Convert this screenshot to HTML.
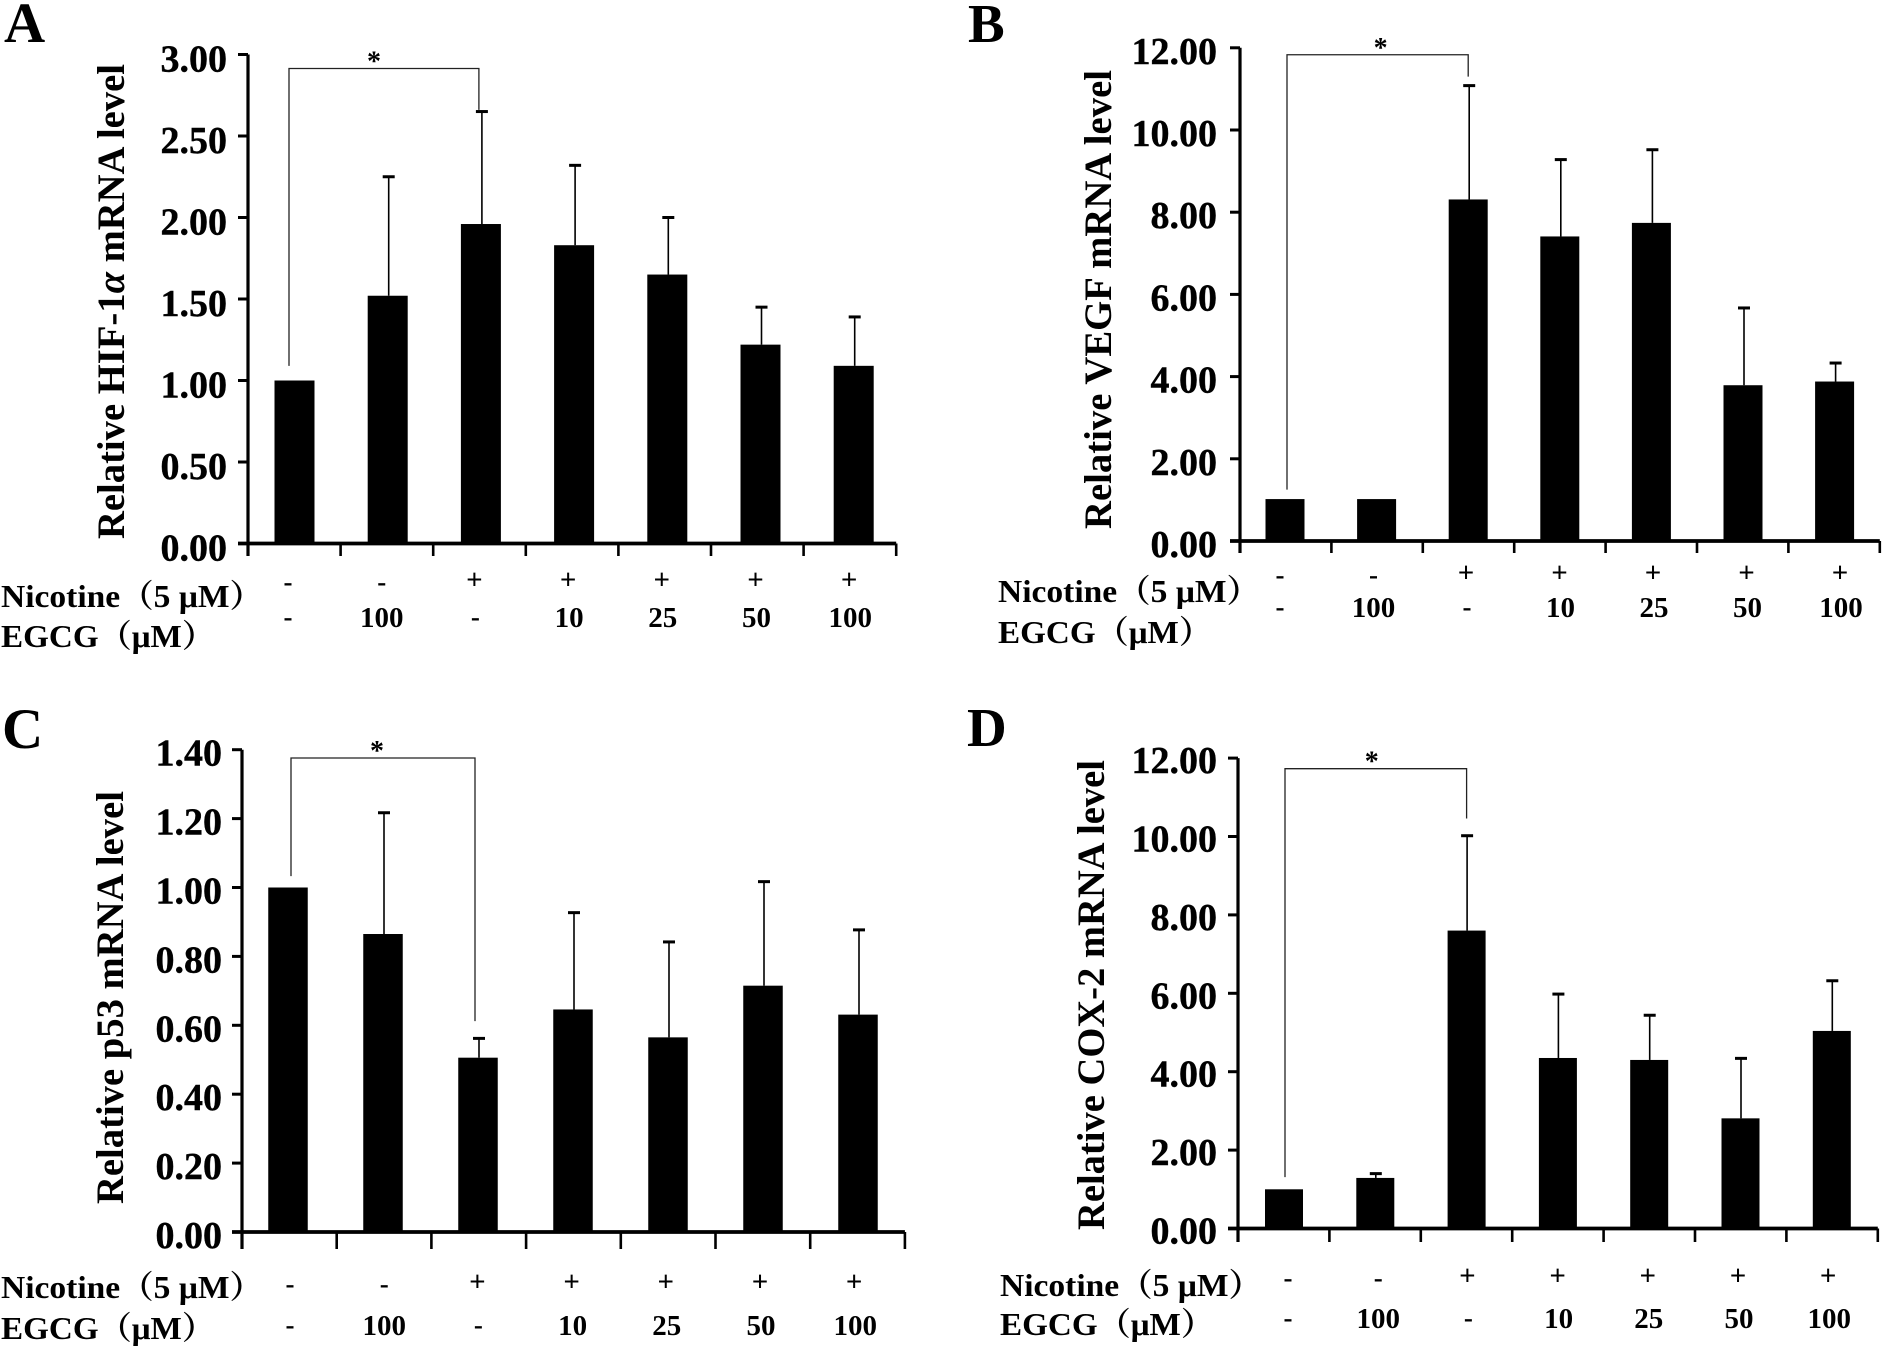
<!DOCTYPE html>
<html lang="en">
<head>
<meta charset="utf-8">
<title>Relative mRNA levels after nicotine and EGCG treatment</title>
<style>
html,body{margin:0;padding:0;background:#fff;}
svg{display:block;}
text{font-family:"Liberation Serif","Noto Serif CJK SC",serif;font-weight:bold;fill:#000;}
</style>
</head>
<body>
<svg id="figure" xmlns="http://www.w3.org/2000/svg" width="1887" height="1346" viewBox="0 0 1887 1346">
  <rect width="1887" height="1346" fill="#fff"/>

  <g id="panel-a">
    <text x="4" y="42" font-size="57">A</text>
    <text transform="translate(124 539) rotate(-90)" font-size="39" textLength="475" lengthAdjust="spacingAndGlyphs">Relative HIF-1<tspan font-style="italic">α</tspan> mRNA level</text>
    <text x="1" y="607" font-size="32" textLength="262" lengthAdjust="spacingAndGlyphs">Nicotine（5 μM）</text>
    <text x="1" y="647" font-size="32" textLength="214" lengthAdjust="spacingAndGlyphs">EGCG（μM）</text>
  </g>

  <g id="panel-b">
    <text x="968" y="42" font-size="55">B</text>
    <text transform="translate(1111 529) rotate(-90)" font-size="39" textLength="459" lengthAdjust="spacingAndGlyphs">Relative VEGF mRNA level</text>
    <text x="998" y="602" font-size="32" textLength="262" lengthAdjust="spacingAndGlyphs">Nicotine（5 μM）</text>
    <text x="998" y="643" font-size="32" textLength="214" lengthAdjust="spacingAndGlyphs">EGCG（μM）</text>
  </g>

  <g id="panel-c">
    <text x="2" y="748" font-size="57">C</text>
    <text transform="translate(123 1204) rotate(-90)" font-size="39" textLength="413" lengthAdjust="spacingAndGlyphs">Relative p53 mRNA level</text>
    <text x="1" y="1298" font-size="32" textLength="262" lengthAdjust="spacingAndGlyphs">Nicotine（5 μM）</text>
    <text x="1" y="1339" font-size="32" textLength="214" lengthAdjust="spacingAndGlyphs">EGCG（μM）</text>
  </g>

  <g id="panel-d">
    <text x="967" y="746" font-size="55">D</text>
    <text transform="translate(1104 1230) rotate(-90)" font-size="39" textLength="470" lengthAdjust="spacingAndGlyphs">Relative COX-2 mRNA level</text>
    <text x="1000" y="1296" font-size="32" textLength="262" lengthAdjust="spacingAndGlyphs">Nicotine（5 μM）</text>
    <text x="1000" y="1335" font-size="32" textLength="214" lengthAdjust="spacingAndGlyphs">EGCG（μM）</text>
  </g>
</svg>

<script>
// Treatment labels shared by all panels
const nicotineLabels = ['-', '-', '+', '+', '+', '+', '+'];
const egcgLabels = ['-', '100', '-', '10', '25', '50', '100'];

// Panel A: HIF-1 alpha
const hifValues = [1.00, 1.52, 1.96, 1.83, 1.65, 1.22, 1.09];
const hifErrors = [0, 0.73, 0.69, 0.49, 0.35, 0.23, 0.30];
const hifTicks = [0, 0.5, 1, 1.5, 2, 2.5, 3];
const hifBracket = [2.914, 1.09, 2.66];

// Panel B: VEGF
const vegfValues = [1.02, 1.02, 8.31, 7.41, 7.74, 3.79, 3.88];
const vegfErrors = [0, 0, 2.77, 1.87, 1.78, 1.88, 0.45];
const vegfTicks = [0, 2, 4, 6, 8, 10, 12];
const vegfBracket = [11.83, 1.25, 11.3];

// Panel C: p53
const p53Values = [1.00, 0.865, 0.506, 0.646, 0.565, 0.715, 0.631];
const p53Errors = [0, 0.352, 0.056, 0.281, 0.277, 0.302, 0.246];
const p53Ticks = [0, 0.2, 0.4, 0.6, 0.8, 1, 1.2, 1.4];
const p53Bracket = [1.376, 1.033, 0.612];

// Panel D: COX-2
const coxValues = [1.00, 1.29, 7.60, 4.35, 4.30, 2.81, 5.04];
const coxErrors = [0, 0.11, 2.42, 1.63, 1.14, 1.53, 1.28];
const coxTicks = [0, 2, 4, 6, 8, 10, 12];
const coxBracket = [11.73, 1.31, 10.46];

const SVGNS = 'http://www.w3.org/2000/svg';

function shape(parent, tag, attrs) {
  const el = document.createElementNS(SVGNS, tag);
  for (const k in attrs) el.setAttribute(k, attrs[k]);
  parent.appendChild(el);
  return el;
}

function line(parent, x1, y1, x2, y2, width, color) {
  return shape(parent, 'line', { x1, y1, x2, y2, stroke: color || '#000', 'stroke-width': width });
}

function label(parent, str, x, y, size, anchor) {
  const el = shape(parent, 'text', { x, y, 'font-size': size, 'text-anchor': anchor || 'middle' });
  el.textContent = str;
  return el;
}

function drawPanel(cfg) {
  const root = document.getElementById(cfg.id);
  const yOf = function (v) { return cfg.y0 - v * cfg.pxPerUnit; };
  const xOf = function (i) { return cfg.barStart + i * cfg.barStep; };
  const xLabelOf = function (i) { return cfg.labelStart + i * cfg.labelStep; };
  const n = cfg.values.length;
  const topTick = cfg.ticks[cfg.ticks.length - 1];

  // bars
  cfg.values.forEach(function (v, i) {
    const bar = shape(root, 'rect', {
      x: xOf(i) - cfg.barWidth / 2,
      y: yOf(v),
      width: cfg.barWidth,
      height: cfg.y0 - yOf(v)
    });
    
    
  });

  // error bars
  cfg.errors.forEach(function (e, i) {
    if (e <= 0) return;
    const cx = xOf(i) + cfg.errDx;
    const topY = yOf(cfg.values[i] + e);
    const stem = line(root, cx, yOf(cfg.values[i]), cx, topY, 1.6);
    
    
    const cap = line(root, cx - 6, topY, cx + 6, topY, 3);
    
    
  });

  // y axis
  const yAxis = line(root, cfg.axisX, yOf(topTick), cfg.axisX, cfg.tickBottom, 3.2);
  
  

  // x axis
  const xAxis = line(root, cfg.axisX - 10, cfg.y0, cfg.axisX + n * cfg.tickStep, cfg.y0, 3.8);
  
  

  // y ticks and labels
  cfg.ticks.forEach(function (t) {
    const tick = line(root, cfg.axisX - 10, yOf(t), cfg.axisX, yOf(t), 3);
    
    
    const txt = label(root, t.toFixed(2), cfg.tickLabelRight, yOf(t) + 13 + cfg.tickLabelDy, 38, 'end');
    txt.setAttribute('stroke', '#000');
    txt.setAttribute('stroke-width', '0.4');
    
    
  });

  // x ticks
  for (let i = 0; i <= n; i++) {
    const x = cfg.axisX + i * cfg.tickStep;
    const tick = line(root, x, cfg.y0, x, cfg.tickBottom, 2.6);
    
    
  }

  // treatment rows
  nicotineLabels.forEach(function (s, i) {
    const isPlus = s === '+';
    const txt = label(root, s, xLabelOf(i) + (isPlus ? -1 : 0), cfg.row1 + (isPlus ? 7 : 9), isPlus ? 29 : 27);
    
    
  });
  egcgLabels.forEach(function (s, i) {
    const isDash = s === '-';
    const txt = label(root, s, xLabelOf(i), cfg.row2 + (isDash ? 8 : 9), isDash ? 27 : 29);
    
    
  });

  // significance bracket
  const bl = xOf(0) + cfg.bracketLeftDx;
  const br = xOf(2) + cfg.bracketRightDx;
  const bTop = yOf(cfg.bracket[0]);
  const path = shape(root, 'path', {
    d: 'M' + bl + ' ' + yOf(cfg.bracket[1]) + 'V' + bTop + 'H' + br + 'V' + yOf(cfg.bracket[2]),
    fill: 'none',
    stroke: '#222',
    'stroke-width': 1.3
  });
  
  
  const star = label(root, '*', (bl + br) / 2 + cfg.starDx, bTop + 2, 28);
  
  
}

drawPanel({
  id: 'panel-a', key: 'panel-a',
  values: hifValues, errors: hifErrors, ticks: hifTicks, bracket: hifBracket,
  y0: 543.5, pxPerUnit: 163, axisX: 248, tickStep: 92.6, tickBottom: 556,
  barStart: 294.5, barStep: 93.2, barWidth: 40, errDx: 1,
  tickLabelRight: 227, tickLabelDy: 4,
  labelStart: 288, labelStep: 93.7, row1: 582, row2: 618,
  bracketLeftDx: -5.5, bracketRightDx: -2, starDx: -10
});
drawPanel({
  id: 'panel-b', key: 'panel-b',
  values: vegfValues, errors: vegfErrors, ticks: vegfTicks, bracket: vegfBracket,
  y0: 541, pxPerUnit: 41.1, axisX: 1240, tickStep: 91.4, tickBottom: 553,
  barStart: 1285, barStep: 91.6, barWidth: 39, errDx: 1,
  tickLabelRight: 1217, tickLabelDy: 3,
  labelStart: 1280, labelStep: 93.5, row1: 575, row2: 608,
  bracketLeftDx: 2, bracketRightDx: 0, starDx: 3
});
drawPanel({
  id: 'panel-c', key: 'panel-c',
  values: p53Values, errors: p53Errors, ticks: p53Ticks, bracket: p53Bracket,
  y0: 1232, pxPerUnit: 344.5, axisX: 242, tickStep: 94.7, tickBottom: 1249,
  barStart: 288, barStep: 95, barWidth: 39.5, errDx: 1,
  tickLabelRight: 222, tickLabelDy: 3,
  labelStart: 290, labelStep: 94.2, row1: 1284, row2: 1326,
  bracketLeftDx: 3, bracketRightDx: -3, starDx: -6
});
drawPanel({
  id: 'panel-d', key: 'panel-d',
  values: coxValues, errors: coxErrors, ticks: coxTicks, bracket: coxBracket,
  y0: 1228.5, pxPerUnit: 39.2, axisX: 1238, tickStep: 91.4, tickBottom: 1242,
  barStart: 1284, barStep: 91.3, barWidth: 38, errDx: 0.5,
  tickLabelRight: 1217, tickLabelDy: 2,
  labelStart: 1288, labelStep: 90.2, row1: 1278, row2: 1319,
  bracketLeftDx: 1, bracketRightDx: 0, starDx: -4
});
</script>
</body>
</html>
